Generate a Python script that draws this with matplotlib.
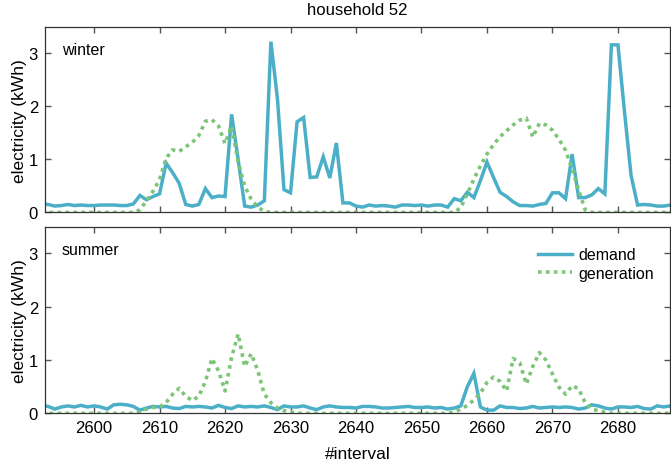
import numpy as np
import matplotlib
matplotlib.use("Agg")
import matplotlib.pyplot as plt

plt.rcParams['font.family'] = ['Liberation Sans', 'DejaVu Sans']

# datos #####################################################
intervals = np.arange(2592, 2689)

winter_demand = [
    0.16, 0.15, 0.12, 0.13, 0.15, 0.13, 0.14, 0.13, 0.13, 0.14,   # 2592-2601
    0.14, 0.14, 0.13, 0.13, 0.16, 0.32, 0.24, 0.30, 0.35, 0.93,   # 2602-2611
    0.75, 0.55, 0.15, 0.12, 0.15, 0.45, 0.28, 0.31, 0.30, 1.85,   # 2612-2621
    1.00, 0.12, 0.10, 0.14, 0.22, 3.22, 2.15, 0.43, 0.37, 1.71,   # 2622-2631
    1.79, 0.66, 0.67, 1.05, 0.65, 1.31, 0.18, 0.18, 0.12, 0.10,   # 2632-2641
    0.14, 0.12, 0.13, 0.12, 0.10, 0.14, 0.14, 0.13, 0.14, 0.12,   # 2642-2651
    0.14, 0.14, 0.10, 0.26, 0.22, 0.38, 0.28, 0.60, 0.95, 0.66,   # 2652-2661
    0.38, 0.30, 0.20, 0.13, 0.13, 0.12, 0.15, 0.17, 0.37, 0.37,   # 2662-2671
    0.26, 1.10, 0.28, 0.28, 0.33, 0.45, 0.35, 3.16, 3.16, 1.90,   # 2672-2681
    0.70, 0.14, 0.15, 0.14, 0.12, 0.12, 0.14,                     # 2682-2688
]
winter_generation = [
    0, 0, 0, 0, 0, 0, 0, 0, 0, 0,                                 # 2592-2601
    0, 0, 0, 0, 0, 0.05, 0.22, 0.40, 0.62, 1.02,                  # 2602-2611
    1.18, 1.15, 1.24, 1.32, 1.45, 1.72, 1.75, 1.63, 1.30, 1.63,   # 2612-2621
    0.95, 0.50, 0.25, 0.10, 0.02, 0, 0, 0, 0, 0,                  # 2622-2631
    0, 0, 0, 0, 0, 0, 0, 0, 0, 0,                                 # 2632-2641
    0, 0, 0, 0, 0, 0, 0, 0, 0, 0,                                 # 2642-2651
    0, 0, 0, 0, 0.09, 0.35, 0.63, 0.88, 1.10, 1.28,               # 2652-2661
    1.43, 1.54, 1.65, 1.74, 1.78, 1.42, 1.68, 1.65, 1.55, 1.38,   # 2662-2671
    1.17, 0.82, 0.42, 0.05, 0, 0, 0, 0, 0, 0,                     # 2672-2681
    0, 0, 0, 0, 0, 0, 0,                                          # 2682-2688
]
summer_demand = [
    0.15, 0.13, 0.08, 0.12, 0.14, 0.12, 0.15, 0.12, 0.14, 0.12,   # 2592-2601
    0.08, 0.16, 0.17, 0.16, 0.13, 0.06, 0.10, 0.13, 0.12, 0.13,   # 2602-2611
    0.10, 0.09, 0.13, 0.12, 0.13, 0.12, 0.10, 0.15, 0.11, 0.09,   # 2612-2621
    0.14, 0.12, 0.13, 0.12, 0.14, 0.11, 0.07, 0.14, 0.12, 0.12,   # 2622-2631
    0.14, 0.10, 0.07, 0.12, 0.14, 0.12, 0.11, 0.11, 0.10, 0.13,   # 2632-2641
    0.13, 0.12, 0.10, 0.10, 0.11, 0.12, 0.13, 0.11, 0.11, 0.12,   # 2642-2651
    0.10, 0.11, 0.08, 0.10, 0.14, 0.50, 0.75, 0.12, 0.06, 0.06,   # 2652-2661
    0.14, 0.11, 0.11, 0.09, 0.10, 0.13, 0.10, 0.11, 0.12, 0.11,   # 2662-2671
    0.12, 0.11, 0.08, 0.10, 0.16, 0.14, 0.10, 0.08, 0.12, 0.12,   # 2672-2681
    0.11, 0.13, 0.09, 0.08, 0.14, 0.12, 0.14,                     # 2682-2688
]
summer_generation = [
    0, 0, 0, 0, 0, 0, 0, 0, 0, 0,                                 # 2592-2601
    0, 0, 0, 0, 0, 0.03, 0.08, 0.11, 0.12, 0.20,                  # 2602-2611
    0.36, 0.47, 0.32, 0.24, 0.32, 0.60, 1.03, 0.80, 0.42, 1.05,   # 2612-2621
    1.49, 0.88, 1.12, 0.80, 0.36, 0.20, 0.10, 0.05, 0.03, 0,      # 2622-2631
    0, 0, 0, 0, 0, 0, 0, 0, 0, 0,                                 # 2632-2641
    0, 0, 0, 0, 0, 0, 0, 0, 0, 0,                                 # 2642-2651
    0, 0, 0, 0.02, 0.08, 0.15, 0.25, 0.38, 0.58, 0.68,            # 2652-2661
    0.60, 0.42, 1.03, 0.95, 0.55, 0.88, 1.14, 1.00, 0.74, 0.49,   # 2662-2671
    0.36, 0.52, 0.46, 0.20, 0.08, 0.05, 0.02, 0, 0, 0,            # 2672-2681
    0, 0, 0, 0, 0, 0, 0,                                          # 2682-2688
]

seasons = ["winter", "summer"]
xticks = [2600, 2610, 2620, 2630, 2640, 2650, 2660, 2670, 2680]
yticks = [0, 1, 2, 3]
###########################################################

c_demand = "#4bafc8"
c_gen = "#7cc576"

fig = plt.figure(figsize=(6.71, 4.64), dpi=100)
ax1 = fig.add_axes([0.067, 0.540, 0.932, 0.400])
ax2 = fig.add_axes([0.067, 0.107, 0.932, 0.402])

datos = [(ax1, winter_demand, winter_generation),
         (ax2, summer_demand, summer_generation)]

for (ax, dem, gen), nombre in zip(datos, seasons):
    ax.plot(intervals, dem, color=c_demand, lw=2.5, label="demand",
            solid_joinstyle="miter")
    ax.plot(intervals, gen, color=c_gen, lw=2.6, linestyle=(0, (1, 1.2)),
            label="generation")
    ax.set_xlim(2592.5, 2688)
    ax.set_ylim(0, 3.5)
    ax.set_xticks(xticks)
    ax.set_yticks(yticks)
    ax.tick_params(direction="in", top=True, right=True, length=4,
                   width=1, color="#555555", labelsize=12, pad=5)
    for s in ax.spines.values():
        s.set_color("#333333")
        s.set_linewidth(0.9)
    ax.set_ylabel("electricity (kWh)", fontsize=12.5, labelpad=1)
    ax.text(0.027, 0.88, nombre, transform=ax.transAxes, fontsize=11.5,
            va="center", ha="left")

ax1.tick_params(labelbottom=False)
ax1.set_title("household 52", fontsize=12, pad=9)
ax2.set_xlabel("#interval", fontsize=12.5, labelpad=8)
ax2.legend(loc="upper right", frameon=False, fontsize=11.5,
           handlelength=2.1, handletextpad=0.45, labelspacing=0.2,
           borderaxespad=0.6, bbox_to_anchor=(1.0, 0.975))

plt.savefig("out.png", dpi=100)
